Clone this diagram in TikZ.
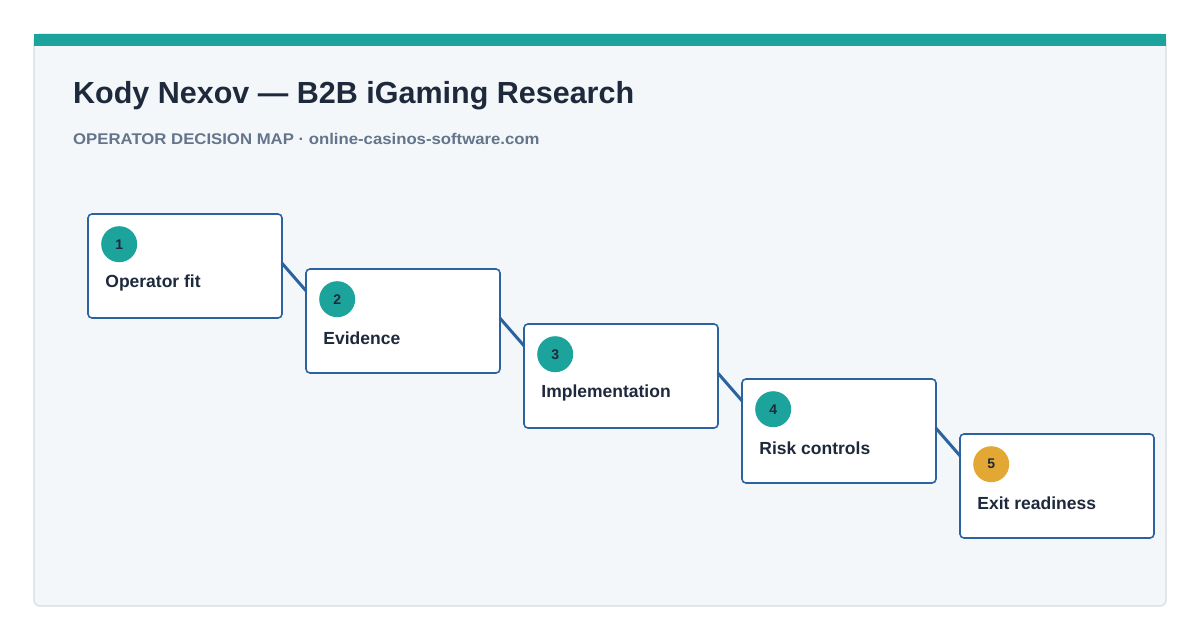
\documentclass[tikz,border=0pt]{standalone}
\usepackage{fontspec}
\setmainfont{Liberation Sans}
\usetikzlibrary{positioning, calc}
\definecolor{cardcolor}{HTML}{F3F7FA}
\definecolor{edgecolor}{HTML}{D5DCE3}
\definecolor{tealcolor}{HTML}{1BA39C}
\definecolor{goldcolor}{HTML}{E3A833}
\definecolor{linecolor}{HTML}{2B62A0}
\definecolor{inkcolor}{HTML}{1E293B}
\definecolor{subcolor}{HTML}{64748B}

\begin{document}
\begin{tikzpicture}[
    x=1pt, y=-1pt,
    stage/.style={rectangle, rounded corners=4pt, draw=linecolor, line width=1.6pt, fill=white, minimum width=194pt, minimum height=104pt, inner sep=0pt},
    badge/.style={circle, minimum size=36pt, inner sep=0pt, font=\fontsize{14}{16}\selectfont\bfseries, text=inkcolor},
    stagelabel/.style={font=\fontsize{17.5}{20}\selectfont\bfseries, text=inkcolor, anchor=west},
    link/.style={line width=3pt, linecolor}
]
\useasboundingbox (0,0) rectangle (1200,640);

% Card
\node[draw=edgecolor, line width=1.2pt, fill=cardcolor, rounded corners=6pt, minimum width=1132pt, minimum height=572pt, inner sep=0pt] (card) at (600,320) {};
\fill[tealcolor] (34,34) rectangle (1166,46);

% Title
\node[anchor=base west, font=\fontsize{30.5}{34}\selectfont\bfseries, text=inkcolor, inner sep=0pt] (title) at (73,103) {Kody Nexov — B2B iGaming Research};
\node[anchor=base west, font=\fontsize{15.5}{18}\selectfont\bfseries, text=subcolor, inner sep=0pt, xscale=1.08] (subtitle) at (73,144) {OPERATOR DECISION MAP · online-casinos-software.com};

% Stages
\foreach \i/\txt in {1/Operator fit, 2/Evidence, 3/Implementation, 4/Risk controls, 5/Exit readiness} {
    \node[stage] (stage\i) at ({185 + (\i-1)*218}, {266 + (\i-1)*55}) {};
    \node[stagelabel, inner sep=0pt] (label\i) at ($(stage\i.west) + (18,17)$) {\txt};
}

% Connectors
\foreach \i in {1,...,4} {
    \pgfmathtruncatemacro{\j}{\i + 1}
    \draw[link] ($(stage\i.east) + (-1,-3)$) -- ($(stage\j.west) + (1,-30)$);
}

\foreach \i in {1,...,4} {
    \node[badge, fill=tealcolor] (badge\i) at ($(stage\i.north west) + (32,31)$) {\i};
}
\node[badge, fill=goldcolor] (badge5) at ($(stage5.north west) + (32,31)$) {5};

\end{tikzpicture}
\end{document}
